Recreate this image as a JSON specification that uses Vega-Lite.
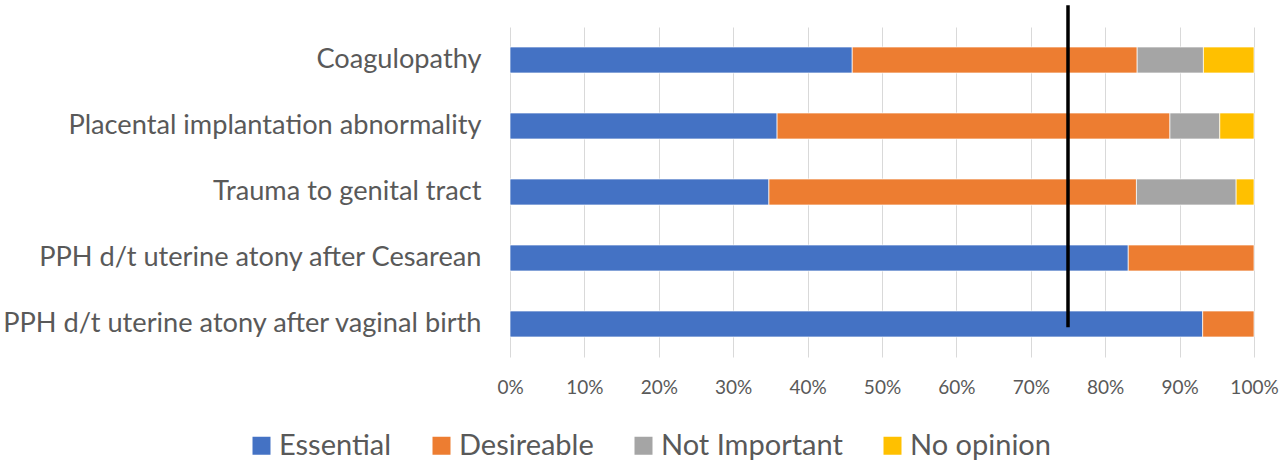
{
  "$schema": "https://vega.github.io/schema/vega-lite/v6.json",
  "width": 744,
  "height": 330,
  "autosize": {"type": "none"},
  "padding": {"left": 510, "top": 27, "right": 28, "bottom": 103},
  "background": "white",
  "config": {
    "view": {"stroke": null},
    "font": "Lato",
    "axis": {"labelColor": "#595959", "labelFont": "Lato"},
    "legend": {"labelColor": "#595959", "labelFont": "Lato"}
  },
  "datasets": {
    "ratings": [
      {"item": "Coagulopathy", "rating": "Essential", "pct": 46.0},
      {"item": "Coagulopathy", "rating": "Desireable", "pct": 38.3},
      {"item": "Coagulopathy", "rating": "Not Important", "pct": 8.9},
      {"item": "Coagulopathy", "rating": "No opinion", "pct": 6.8},
      {"item": "Placental implantation abnormality", "rating": "Essential", "pct": 35.9},
      {"item": "Placental implantation abnormality", "rating": "Desireable", "pct": 52.8},
      {"item": "Placental implantation abnormality", "rating": "Not Important", "pct": 6.7},
      {"item": "Placental implantation abnormality", "rating": "No opinion", "pct": 4.6},
      {"item": "Trauma to genital tract", "rating": "Essential", "pct": 34.8},
      {"item": "Trauma to genital tract", "rating": "Desireable", "pct": 49.4},
      {"item": "Trauma to genital tract", "rating": "Not Important", "pct": 13.4},
      {"item": "Trauma to genital tract", "rating": "No opinion", "pct": 2.4},
      {"item": "PPH d/t uterine atony after Cesarean\u00a0", "rating": "Essential", "pct": 83.1},
      {"item": "PPH d/t uterine atony after Cesarean\u00a0", "rating": "Desireable", "pct": 16.9},
      {"item": "PPH d/t uterine atony after vaginal birth", "rating": "Essential", "pct": 93.1},
      {"item": "PPH d/t uterine atony after vaginal birth", "rating": "Desireable", "pct": 6.9}
    ],
    "threshold": [
      {"pct": 75, "top": 5.33, "bottom": 0.45}
    ]
  },
  "layer": [
    {
      "data": {"name": "ratings"},
      "transform": [
        {"calculate": "indexof(['Essential','Desireable','Not Important','No opinion'], datum.rating)", "as": "rank"}
      ],
      "mark": {"type": "bar", "stroke": "white", "strokeWidth": 0.7},
      "encoding": {
        "y": {
          "field": "item",
          "type": "nominal",
          "sort": [
            "Coagulopathy",
            "Placental implantation abnormality",
            "Trauma to genital tract",
            "PPH d/t uterine atony after Cesarean\u00a0",
            "PPH d/t uterine atony after vaginal birth"
          ],
          "scale": {"paddingInner": 0.606, "paddingOuter": 0.303},
          "axis": {
            "title": null,
            "domain": false,
            "ticks": false,
            "labelPadding": 29,
            "labelFontSize": 27.2,
            "labelLimit": 600
          }
        },
        "x": {
          "field": "pct",
          "type": "quantitative",
          "stack": "zero",
          "scale": {"domain": [0, 100], "nice": false},
          "axis": {
            "title": null,
            "values": [0, 10, 20, 30, 40, 50, 60, 70, 80, 90, 100],
            "labelExpr": "datum.value + '%'",
            "domain": false,
            "ticks": false,
            "grid": true,
            "gridColor": "#D9D9D9",
            "gridWidth": 1,
            "labelFontSize": 19,
            "labelPadding": 21,
            "labelFlush": false
          }
        },
        "color": {
          "field": "rating",
          "type": "nominal",
          "scale": {
            "domain": ["Essential", "Desireable", "Not Important", "No opinion"],
            "range": ["#4472C4", "#ED7D31", "#A5A5A5", "#FFC000"]
          },
          "legend": {
            "title": null,
            "orient": "none",
            "direction": "horizontal",
            "legendX": -263,
            "legendY": 404,
            "symbolType": "square",
            "symbolSize": 324,
            "symbolStrokeWidth": 0,
            "labelFontSize": 29,
            "labelOffset": 3,
            "columnPadding": 35,
            "labelLimit": 400
          }
        },
        "order": {"field": "rank", "type": "quantitative"}
      }
    },
    {
      "data": {"name": "threshold"},
      "mark": {"type": "rule", "color": "black", "strokeWidth": 3.5},
      "encoding": {
        "x": {"field": "pct", "type": "quantitative"},
        "y": {"field": "top", "type": "quantitative", "scale": {"domain": [0, 5], "nice": false}, "axis": null},
        "y2": {"field": "bottom"}
      }
    }
  ],
  "resolve": {"scale": {"y": "independent"}}
}
